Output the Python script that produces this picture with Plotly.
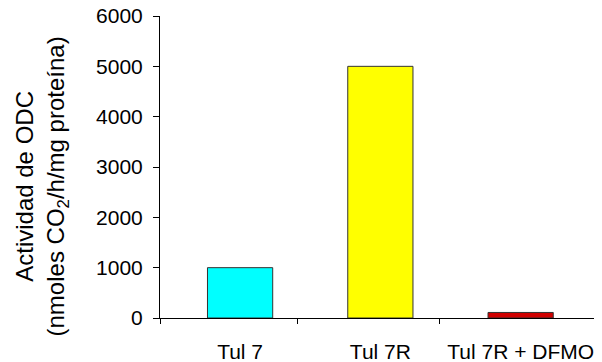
import plotly.graph_objects as go

categories = ["Tul 7", "Tul 7R", "Tul 7R + DFMO"]
values = [1000, 5000, 110]
colors = ["#00FFFF", "#FFFF00", "#D00000"]
y_ticks = [0, 1000, 2000, 3000, 4000, 5000, 6000]

positions = list(range(len(categories)))

fig = go.Figure()
fig.add_trace(go.Bar(
    x=positions, y=values,
    marker=dict(color=colors, line=dict(color="#333333", width=1)),
    width=0.465,
))

FONT = "Liberation Sans, Arial, Helvetica, sans-serif"

fig.update_layout(
    width=594, height=354,
    margin=dict(l=152, r=0, t=8, b=44, autoexpand=False),
    paper_bgcolor="white", plot_bgcolor="white",
    showlegend=False,
    font=dict(family=FONT, size=21, color="black"),
    xaxis=dict(
        range=[-0.571, 2.58],
        tickmode="array", tickvals=positions, ticktext=categories,
        ticks="", ticklen=0, ticklabelstandoff=15,
        showline=True, linecolor="black", linewidth=1,
        showgrid=False, zeroline=False, automargin=False,
        ticklabeloverflow="allow",
        minor=dict(tickmode="array", tickvals=[-0.571, 0.407, 1.421],
                   ticks="outside", ticklen=5, tickcolor="black", tickwidth=1),
        tickfont=dict(size=21),
    ),
    yaxis=dict(
        range=[0, 6000],
        tickmode="array", tickvals=y_ticks,
        ticks="outside", ticklen=6, tickcolor="black",
        showline=True, linecolor="black", linewidth=1,
        showgrid=False, zeroline=False, automargin=False,
        ticklabelstandoff=6,
        ticklabeloverflow="allow",
        tickfont=dict(size=21),
    ),
)

fig.add_annotation(
    text="Actividad de ODC<br>(nmoles CO<sub>2</sub>/h/mg proteína)",
    xref="paper", yref="paper", x=-0.268, y=0.434,
    xanchor="center", yanchor="middle",
    textangle=-90, showarrow=False,
    font=dict(family=FONT, size=24, color="black"),
)

fig.write_html("out.html")
